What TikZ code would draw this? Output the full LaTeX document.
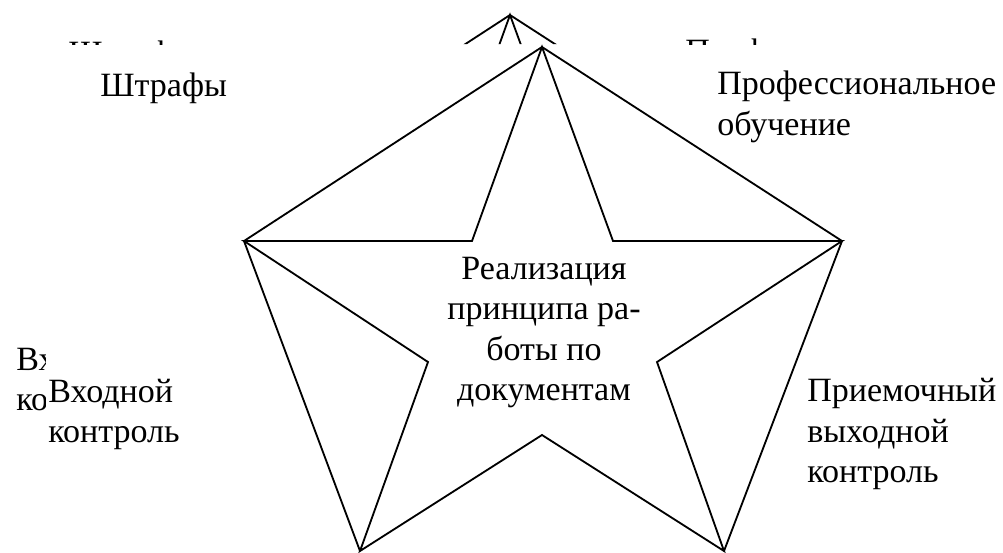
\documentclass[tikz,border=0pt]{standalone}
\usepackage{fontspec}
\setmainfont{Liberation Serif}
\newfontfamily\schemefont{Liberation Serif}
\usetikzlibrary{positioning}

\tikzset{
  edge/.style={line width=1.3pt, line join=miter},
  lbl/.style={font=\schemefont\fontsize{24.2}{28.45}\selectfont, inner sep=0pt, align=left, anchor=base west},
  goallbl/.style={lbl, align=center, anchor=base},
}

% whole scheme, #1 = prefix of the names
\newcommand{\starscheme}[1]{%
  % outer vertices
  \coordinate (#1top)   at (542,47);
  \coordinate (#1left)  at (244,241);
  \coordinate (#1right) at (842,241);
  \coordinate (#1bl)    at (360,551);
  \coordinate (#1br)    at (724,551);
  % inner vertices of the star
  \coordinate (#1itl)    at (472,241);
  \coordinate (#1itr)    at (613,241);
  \coordinate (#1iright) at (657,362);
  \coordinate (#1ibot)   at (542,435);
  \coordinate (#1ileft)  at (428,362);

  \draw[edge] (#1bl) -- (#1left) -- (#1top) -- (#1right) -- (#1br);
  \draw[edge] (#1top) -- (#1itr) -- (#1right) -- (#1iright) -- (#1br) -- (#1ibot)
    -- (#1bl) -- (#1ileft) -- (#1left) -- (#1itl) -- cycle;

  % labels (point = baseline of the last line)
  \node[lbl] (#1fines) at (100,96) {Штрафы};
  \node[lbl] (#1train) at (717,135) {Профессиональное\\обучение};
  \node[lbl] (#1input) at (48,442) {Входной\\контроль};
  \node[lbl] (#1output) at (807,482) {Приемочный\\выходной\\контроль};
  \node[goallbl] (#1goal) at (544,400) {Реализация\\принципа ра-\\боты по\\документам};
}

\begin{document}
\begin{tikzpicture}[x=0.025cm, y=-0.025cm]
  \useasboundingbox (0,0) rectangle (1003,552);

  % shifted copy, seen only along the top and left edges
  \begin{scope}
    \clip (0,0) -- (1003,0) -- (1003,44) -- (45,44) -- (45,552) -- (0,552) -- cycle;
    \begin{scope}[shift={(-32,-32)}]
      \starscheme{g}
    \end{scope}
  \end{scope}

  \starscheme{m}
\end{tikzpicture}
\end{document}
